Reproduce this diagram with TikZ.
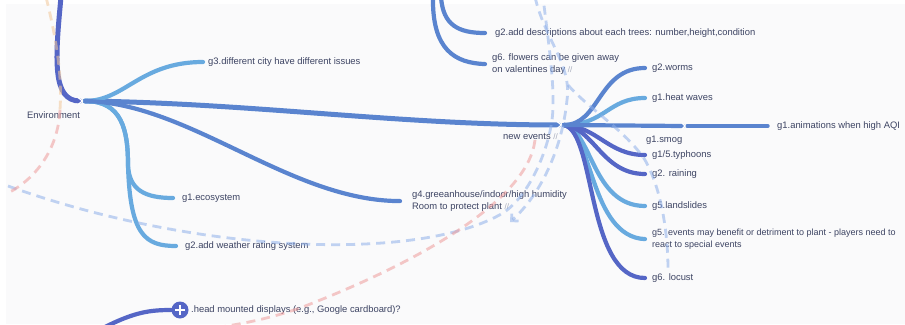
\documentclass[tikz,border=0pt]{standalone}
\usepackage{fontspec}
\newfontfamily\labfont{Liberation Sans}
\usetikzlibrary{arrows.meta}
\definecolor{txt}{HTML}{3D4463}
\definecolor{dkb}{HTML}{5566C6}
\definecolor{mdb}{HTML}{5A84CF}
\definecolor{ltb}{HTML}{68AADF}
\definecolor{dblue}{HTML}{8FB0EA}
\definecolor{dpink}{HTML}{EE9C9C}
\definecolor{dpeach}{HTML}{F2C79A}
\definecolor{notec}{HTML}{A4A9BA}
\definecolor{bgc}{HTML}{FAFAFB}
\newcommand\mynote{{\color{notec}\fontsize{8}{8}\selectfont //}}
\begin{document}
\begin{tikzpicture}[x=1pt,y=-1pt,
 lab/.style={font=\labfont\fontsize{9.4}{12}\selectfont, text=txt, inner sep=0pt, anchor=west},
 lab2/.style={lab, anchor=north west, align=left},
 br/.style={line width=4.2pt, line cap=round},
 trunk/.style={line width=5pt, line cap=round},
 rel/.style={line width=2.8pt, dash pattern=on 9pt off 6pt, opacity=0.55},
 notch/.style={white, line width=1.2pt}]
\useasboundingbox (0,0) rectangle (905,324);
\fill[white] (0,0) rectangle (905,324);
\fill[bgc] (6,4) rectangle (905,324);
\clip (0,0) rectangle (905,324);

% ---------- Environment ----------
\node[lab] (env) at (27,115) {Environment};
\coordinate (hubL) at (80,101);
\coordinate (hubR) at (85,101);
\coordinate (envtop) at (61,-3);
\draw[trunk, dkb] (envtop) .. controls (55,60) and (52,101) .. (hubL);

\node[lab] (g3) at (208,62) {g3.different city have different issues};
\node[lab] (eco) at (182,198) {g1.ecosystem};
\node[lab] (wea) at (185,246) {g2.add weather rating system};
\node[lab2] (g4) at (412,190.5) {g4.greeanhouse/indoor/high humidity\\Room to protect plant \mynote};

\coordinate (neL) at (559,125);
\coordinate (neR) at (564,125);
\node[lab] (ne) at (503,137) {new events \mynote};

\draw[trunk, mdb] (hubR) .. controls (250,103) and (400,125) .. (neL);
\draw[br, ltb] (hubR) .. controls (125,101) and (140,62) .. ([xshift=-5pt]g3.west);
\draw[br, ltb] (hubR) .. controls (122,101) and (128,130) .. (128,165) .. controls (129,190) and (145,198) .. ([xshift=-9pt]eco.west);
\draw[br, ltb] (hubR) .. controls (122,101) and (128,130) .. (128,165) .. controls (130,235) and (145,246) .. ([xshift=-9pt]wea.west);
\draw[br, mdb] (hubR) .. controls (190,103) and (290,201) .. ([xshift=-12pt]g4.west);
\draw[notch] (78,97.5) -- (82.5,101) -- (78,104.5);

% ---------- top branches ----------
\coordinate (t1) at (441,-3);
\coordinate (t2) at (433,-3);
\node[lab] (g2d) at (495,33) {g2.add descriptions about each trees: number,height,condition};
\node[lab2] (g6f) at (492,53.5) {g6. flowers can be given away\\on valentines day \mynote};
\draw[br, mdb] (t1) .. controls (443,25) and (458,33) .. ([xshift=-10pt]g2d.west);
\draw[br, mdb] (t2) .. controls (432,50) and (455,63) .. ([xshift=-7pt]g6f.west);

% ---------- new events branches ----------
\node[lab] (worms) at (652,68) {g2.worms};
\node[lab] (heat) at (652,98) {g1.heat waves};
\coordinate (smog) at (685,126);
\node[lab] (smogl) at (646,140) {g1.smog};
\node[lab] (aqi) at (777,126) {g1.animations when high AQI};
\node[lab] (typh) at (652,155) {g1/5.typhoons};
\node[lab] (rain) at (652,174) {g2. raining};
\node[lab] (land) at (652,206) {g5.landslides};
\node[lab2, font=\labfont\fontsize{9}{12}\selectfont] (evt) at (652,228.7) {g5. events may benefit or detriment to plant - players need to\\react to special events};
\node[lab] (loc) at (652,278) {g6. locust};

\draw[br, ltb] (neR) .. controls (592,130) and (590,237) .. ([xshift=-7pt]evt.west);
\draw[br, ltb] (neR) .. controls (592,130) and (592,206) .. ([xshift=-7pt]land.west);
\draw[br, dkb] (neR) .. controls (596,132) and (586,278) .. ([xshift=-7pt]loc.west);
\draw[br, dkb] (neR) .. controls (594,128) and (602,174) .. ([xshift=-7pt]rain.west);
\draw[br, dkb] (neR) .. controls (598,127) and (608,155) .. ([xshift=-7pt]typh.west);
\draw[br, ltb] (neR) .. controls (605,125) and (608,98) .. ([xshift=-7pt]heat.west);
\draw[br, mdb] (neR) .. controls (600,125) and (598,68) .. ([xshift=-7pt]worms.west);
\draw[br, mdb] (neR) -- ([xshift=-2pt]smog);
\draw[br, mdb, line width=3.4pt] ([xshift=2pt]smog) -- ([xshift=-9pt]aqi.west);
\draw[notch] (557,121.5) -- (561.5,125) -- (557,128.5);
\draw[notch] (682,123) -- (685,126) -- (682,129);

% ---------- head mounted displays ----------
\coordinate (hmdin) at (105,327);
\node[circle, fill=dkb, minimum size=17pt, inner sep=0pt] (plus) at (180,310) {};
\draw[br, dkb] (hmdin) .. controls (135,312) and (150,310) .. (plus.west);
\draw[white, line width=1.8pt] ([xshift=-5pt]plus.center) -- ([xshift=5pt]plus.center);
\draw[white, line width=1.8pt] ([yshift=-5pt]plus.center) -- ([yshift=5pt]plus.center);
\node[lab] (hmd) at (191,310) {.head mounted displays (e.g., Google cardboard)?};

% ---------- dashed relationship lines ----------
\coordinate (c0) at (8,186);
\coordinate (c1) at (543,-3);
\draw[rel, dblue] (c0) .. controls (200,255) and (420,262) .. (503,213) .. controls (530,195) and (548,150) .. (552,120) .. controls (556,90) and (548,40) .. (c1);
\coordinate (a0) at (535,-3);
\coordinate (a1) at (510,222);
\draw[rel, dblue, -{Straight Barb[length=5pt,width=10pt]}] (a0) .. controls (545,40) and (572,65) .. (567,100) .. controls (562,150) and (540,195) .. (a1);
\coordinate (b0) at (568,85);
\coordinate (b1) at (668,270);
\draw[rel, dblue] (b0) .. controls (590,110) and (625,130) .. (645,160) .. controls (662,190) and (668,235) .. (b1);
\coordinate (r0) at (535,140);
\coordinate (r1) at (180,332);
\draw[rel, dpink] (r0) .. controls (528,200) and (420,262) .. (300,308) .. controls (260,322) and (220,328) .. (r1);
\coordinate (p0) at (46,-3);
\coordinate (pm) at (60,110);
\coordinate (p1) at (6,194);
\draw[rel, dpeach] (p0) .. controls (58,45) and (62,80) .. (pm);
\draw[rel, dpink] (pm) .. controls (58,150) and (35,180) .. (p1);
\end{tikzpicture}
\end{document}
